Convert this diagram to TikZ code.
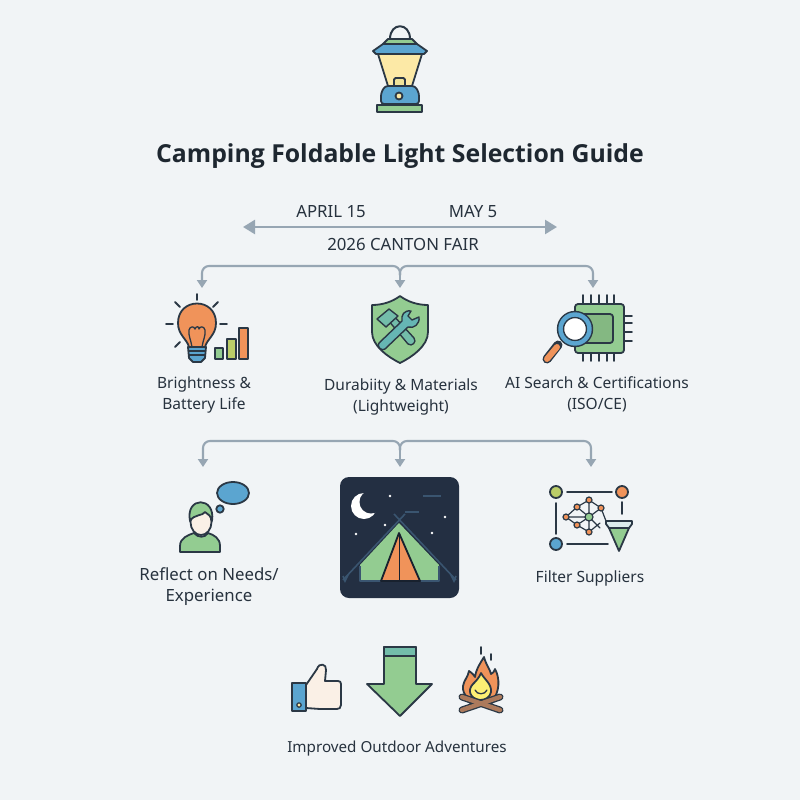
\documentclass[tikz,border=0pt]{standalone}
\usepackage{fontspec}
\setmainfont{Noto Sans}
\newfontfamily\headfont{Open Sans}
\usetikzlibrary{arrows.meta}
\definecolor{pagebg}{HTML}{F1F4F6}
\definecolor{ink}{HTML}{2B3845}
\definecolor{wire}{HTML}{97A6B3}
\definecolor{leaf}{HTML}{93CC91}
\definecolor{sky}{HTML}{5BA5D0}
\definecolor{ember}{HTML}{F0935A}
\definecolor{glow}{HTML}{FCE9A6}
\definecolor{olive}{HTML}{BBCD68}
\definecolor{teal}{HTML}{66B6B4}
\definecolor{skin}{HTML}{FAF0E6}
\definecolor{night}{HTML}{232F42}
\definecolor{rope}{HTML}{3A5570}
\definecolor{wood}{HTML}{AC7A5C}
\tikzset{
  lab/.style={align=center, text=ink!90!black, font=\fontsize{15.5}{21}\selectfont},
  biglab/.style={lab, font=\fontsize{16.8}{21}\selectfont},
  feed/.style={draw=wire, line width=2.1pt, rounded corners=7pt, -{Triangle[length=8pt,width=10pt]}},
  icon/.style={draw=ink, line width=1.8pt, line join=round, line cap=round},
}
\begin{document}
\begin{tikzpicture}[x=1pt, y=-1pt]

\fill [pagebg] (0,0) rectangle (800,800);

% lantern
\draw [icon, line width=2pt] (390,39) .. controls (390,22) and (410,22) .. (410,39);
\draw [icon, fill=leaf] (383,44) -- (388,39) -- (412,39) -- (417,44) -- cycle;
\draw [icon, fill=glow] (378,54) -- (422,54) -- (412,86) -- (388,86) -- cycle;
\draw [icon, fill=sky] (373,51) -- (383,44) -- (417,44) -- (427,51) -- (424,54) -- (376,54) -- cycle;
\draw [icon, fill=glow!80!olive, rounded corners=1.5pt] (394,86) -- (394,78) -- (405,78) -- (405,86);
\draw [icon, fill=sky, rounded corners=3pt] (385,86) -- (415,86) -- (419,93) -- (419,104) -- (381,104) -- (381,93) -- cycle;
\draw [icon, fill=glow] (399,96) circle [radius=3.5];
\draw [icon, fill=leaf] (377,105) rectangle (422,112);

\node [text=ink!70!black] (title) at (400,156) {\fontsize{24.8}{30}\selectfont\headfont\bfseries Camping Foldable Light Selection Guide};

% dates
\coordinate (fairleft) at (243,227);
\coordinate (fairright) at (557,227);
\draw [wire, line width=2.5pt, {Triangle[length=12pt,width=14pt]}-{Triangle[length=12pt,width=14pt]}] (fairleft) -- (fairright);
\node [biglab] (april) at (331,212) {APRIL 15};
\node [biglab] (may) at (473,212) {MAY 5};
\node [biglab] (fair) at (403,244) {2026 CANTON FAIR};

% first row of arrows
\coordinate (stemtop) at (400,275);
\coordinate (hubtop) at (400,266);
\coordinate (tipa) at (202,288);
\coordinate (tipb) at (400,288);
\coordinate (tipc) at (593,288);
\draw [feed] (stemtop) -- (hubtop) -- (tipa |- hubtop) -- (tipa);
\draw [feed] (stemtop) -- (hubtop) -- (tipc |- hubtop) -- (tipc);
\draw [feed] (stemtop) -- (tipb);

% bulb and bars
\foreach \xa/\ya/\xb/\yb in {197/294/197/300, 175/302/180/307, 218/302/213/307, 166/324/173/324, 220/324/227/324, 175/347/180/342}
  \draw [icon] (\xa,\ya) -- (\xb,\yb);
\draw [icon, fill=ember] (189,347) .. controls (187,339) and (178,335) .. (178,323) .. controls (178,297) and (216,297) .. (216,323) .. controls (216,335) and (207,339) .. (205,347) -- cycle;
\draw [icon, line width=1.3pt] (192,347) .. controls (191,340) and (188,335) .. (189,330) .. controls (190,326) and (194,326) .. (195,329) .. controls (196,326) and (199,326) .. (199,329) .. controls (200,326) and (204,326) .. (205,330) .. controls (206,335) and (203,340) .. (202,347);
\draw [icon, fill=sky] (188,347) -- (206,347) -- (205,358) -- (201,362) -- (193,362) -- (189,358) -- cycle;
\draw [icon, line width=1.2pt] (189,351) -- (205,351) (189,355) -- (205,355);
\draw [icon, fill=leaf] (215,348) rectangle (223,359);
\draw [icon, fill=olive] (227,339) rectangle (236,359);
\draw [icon, fill=ember] (239,328) rectangle (248,359);
\node [lab] (bright) at (204,395) {Brightness \&\\Battery Life};

% shield
\draw [icon, fill=leaf] (400,296) .. controls (392,302) and (382,305) .. (372,305) -- (372,332) .. controls (372,346) and (388,357) .. (400,363) .. controls (412,357) and (428,346) .. (428,332) -- (428,305) .. controls (418,305) and (408,302) .. (400,296) -- cycle;
\draw [icon, fill=teal!70!leaf, line width=1.4pt] (388,320) -- (393,315) -- (414,338) .. controls (417,342) and (412,347) .. (408,344) -- cycle;
\draw [icon, fill=teal!70!leaf, line width=1.4pt] (389,309) -- (398,316) -- (386,327) -- (377,319) -- cycle;
\draw [icon, fill=teal, line width=1.4pt] (379,343) -- (402,321) .. controls (401,315) and (404,310) .. (411,311) -- (408,316) -- (412,320) -- (419,317) .. controls (420,324) and (414,329) .. (408,327) -- (385,349) .. controls (382,352) and (376,346) .. (379,343) -- cycle;
\node [lab] (durable) at (401,397) {Durabiity \& Materials\\(Lightweight)};

% chip and lens
\foreach \px in {583,591,599,607,614}
  \draw [icon] (\px,295) -- (\px,361);
\foreach \py in {316,323,332,341}
  \draw [icon] (620,\py) -- (632,\py);
\draw [icon, fill=leaf, rounded corners=3pt] (575,304) rectangle (624,353);
\draw [icon, fill=leaf!90!black, rounded corners=3pt] (580,314) rectangle (613,343);
\draw [icon, line width=9pt] (558,345) -- (547,359);
\draw [ember, line width=6pt, line cap=round] (557,347) -- (547,359);
\draw [icon, fill=white, line width=7.4pt] (575,329) circle [radius=14.5];
\draw [sky, line width=4.4pt] (575,329) circle [radius=14.5];
\node [lab] (search) at (597,394.5) {AI Search \& Certifications\\(ISO/CE)};

% second row of arrows
\coordinate (stemmid) at (400,450);
\coordinate (hubmid) at (400,441);
\coordinate (tipd) at (203,467);
\coordinate (tipe) at (400,467);
\coordinate (tipf) at (591,467);
\draw [feed] (stemmid) -- (hubmid) -- (tipd |- hubmid) -- (tipd);
\draw [feed] (stemmid) -- (hubmid) -- (tipf |- hubmid) -- (tipf);
\draw [feed] (stemmid) -- (tipe);

% thinking person
\draw [icon, fill=sky] (233,493) ellipse [x radius=16, y radius=11];
\draw [icon, fill=sky] (220,509) circle [radius=3.7];
\draw [icon, fill=leaf] (180,552) -- (180,546) .. controls (180,538) and (188,535) .. (194,533) .. controls (198,538) and (205,538) .. (208,533) .. controls (214,535) and (220,538) .. (220,546) -- (220,552) -- cycle;
\draw [icon, fill=skin] (201,522) ellipse [x radius=10.5, y radius=13];
\draw [icon, fill=leaf] (190,521) .. controls (185,496) and (216,496) .. (212,521) .. controls (211,516) and (208,514) .. (205,512) .. controls (203,516) and (194,514) .. (190,521) -- cycle;
\node [biglab] (reflect) at (209,587) {Reflect on Needs/\\Experience};

% night tent
\node [fill=night, rounded corners=9pt, minimum width=119pt, minimum height=121pt, inner sep=0pt] (tentbox) at (399.5,537.5) {};
\fill [white] (364,506) circle [radius=13];
\fill [night] (371,502) circle [radius=11.5];
\foreach \sx/\sy in {390/496, 356/534, 385/525, 445/517, 432/533}
  \fill [white] (\sx,\sy) circle [radius=1.4];
\draw [rope, line width=1.4pt] (423,496) -- (441,496) (405,512) -- (419,512);
\fill [leaf] (399,523) -- (439,565) -- (439,581) -- (360,581) -- (360,565) -- cycle;
\draw [rope, line width=1.4pt, line join=round] (360,566) -- (360,581) -- (439,581) -- (439,566);
\draw [rope, line width=1.6pt] (405,514) -- (343,580) (394,514) -- (456,580);
\draw [rope, line width=1.6pt] (343,576) -- (345,581) -- (348,575) (456,576) -- (454,581) -- (451,575);
\draw [night!70!black, fill=ember, line width=1.8pt, line join=round] (399,533) -- (381,581) -- (420,581) -- cycle;
\draw [night!70!black, line width=1.4pt] (399.5,534) -- (399.5,581);

% suppliers network and funnel
\draw [icon] (567,492) -- (612,492) (556,503) -- (556,534) (622,502) -- (622,514) (567,544) -- (608,544);
\draw [icon, fill=olive] (556,492) circle [radius=6];
\draw [icon, fill=ember] (622,492) circle [radius=6];
\draw [icon, fill=sky] (556,544) circle [radius=6];
\draw [icon, line width=1.2pt] (589,500) -- (577,507) -- (566,517) -- (577,525) -- (589,532) (589,500) -- (601,508) -- (589,517) -- (589,500) (589,517) -- (589,532);
\draw [icon, line width=1.2pt] (577,507) -- (589,517) -- (566,517) (577,525) -- (589,517) -- (600,528) (601,508) -- (606,521) (589,532) -- (600,523);
\foreach \nx/\ny in {589/500, 577/507, 601/508, 566/517, 577/525, 589/532}
  \draw [icon, fill=ember, line width=1.2pt] (\nx,\ny) circle [radius=3];
\draw [icon, fill=leaf, line width=1.2pt] (589,517) circle [radius=4];
\draw [icon, fill=leaf] (609,528) -- (629,528) -- (619,551) -- cycle;
\draw [icon, fill=pagebg!85!teal] (606,521) -- (632,521) -- (632,524) -- (629,528) -- (609,528) -- (606,524) -- cycle;
\node [lab] (filter) at (590,578) {Filter Suppliers};

% thumb, arrow, fire
\draw [icon, fill=skin] (306,685) -- (317,669) .. controls (319,662) and (327,664) .. (326,670) -- (325,681) -- (338,681) .. controls (340,681) and (341,682) .. (341,684) -- (341,705) .. controls (341,708) and (339,709) .. (337,709) -- (320,709) -- (306,708) -- cycle;
\draw [icon, fill=sky] (292,683) rectangle (306,711);
\draw [icon, fill=glow, line width=1.2pt] (299,705) circle [radius=2.2];

\draw [icon, fill=leaf] (384,647) -- (416,647) -- (416,684) -- (432,684) -- (400,716) -- (367,684) -- (384,684) -- cycle;
\draw [icon, fill=teal!70!leaf] (384,647) rectangle (416,656);

\draw [icon] (481,647) -- (481,654) (491,654) -- (491,660);
\draw [icon, fill=ember] (480,703) .. controls (470,702) and (462,695) .. (463,686) .. controls (464,680) and (468,677) .. (469,671) .. controls (472,673) and (474,675) .. (475,677) .. controls (476,669) and (481,662) .. (484,657) .. controls (486,665) and (490,669) .. (491,674) .. controls (493,673) and (494,672) .. (495,669) .. controls (500,678) and (500,692) .. (492,701) -- cycle;
\draw [icon, fill=glow!70!yellow] (480,700) .. controls (470,699) and (467,690) .. (473,684) .. controls (476,681) and (479,678) .. (481,673) .. controls (484,679) and (492,684) .. (491,692) .. controls (490,697) and (486,700) .. (480,700) -- cycle;
\draw [icon, line width=1.3pt] (475,690) .. controls (477,695) and (485,695) .. (487,690);
\draw [icon, line width=7pt] (462,697) -- (500,710) (500,697) -- (462,710);
\draw [wood, line width=4.4pt, line cap=round] (462,697) -- (500,710);
\draw [wood, line width=4.4pt, line cap=round] (500,697) -- (462,710);

\node [lab, font=\fontsize{15.2}{21}\selectfont] (better) at (397,749) {Improved Outdoor Adventures};

\end{tikzpicture}
\end{document}
